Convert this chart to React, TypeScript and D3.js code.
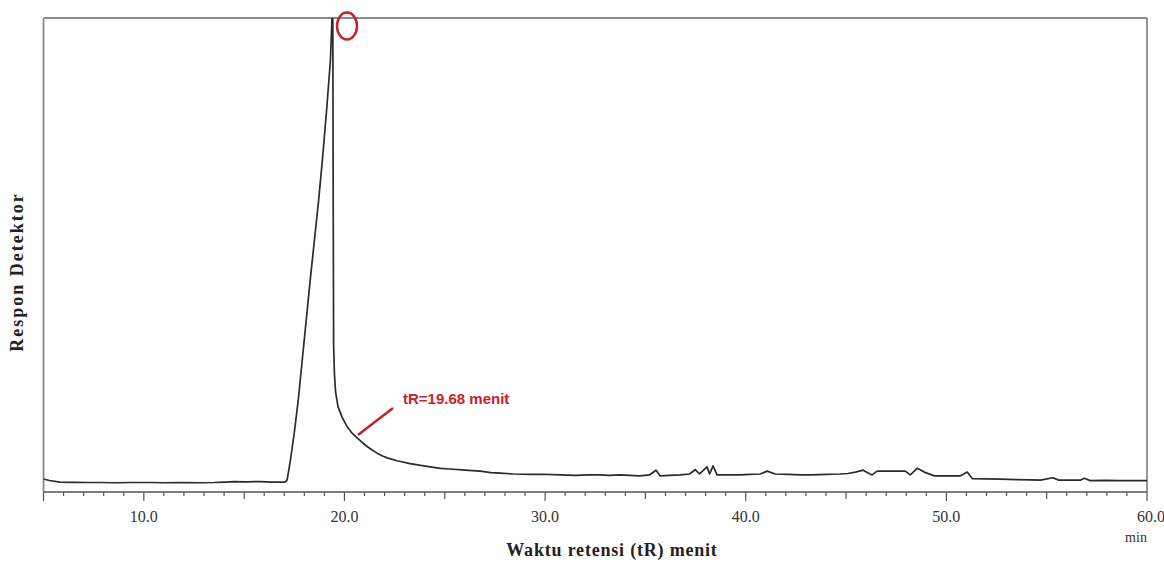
import React from "react";
import * as d3 from "d3";

// Retention time (min) and detector response (relative units, 100 = top of frame)
const times: number[] = [
  5.0, 5.3, 5.8, 6.5, 7.2, 7.8, 8.6, 9.4, 10.3, 11.0, 11.8, 12.8, 13.5, 14.05, 14.5, 15.1, 15.8, 16.4, 16.8, 17.04,
  17.14, 17.3, 17.5, 17.7, 17.9, 18.1, 18.3, 18.5, 18.7, 18.9, 19.1, 19.3, 19.38, 19.42,
  19.44, 19.46, 19.5, 19.56, 19.68, 19.88, 20.13, 20.38, 20.63, 20.9, 21.13, 21.4, 21.63, 21.9, 22.13, 22.62, 23.27, 23.8, 24.27, 24.8, 25.26,
  26.0, 26.76, 27.3, 27.76, 28.4, 29.25, 29.9, 30.75, 31.5, 32.2, 32.74, 33.2, 33.73, 34.2, 34.73, 35.2, 35.53, 35.73,
  36.2, 36.73, 37.2, 37.48, 37.7, 38.07, 38.2, 38.37, 38.57, 39.1, 39.72, 40.2, 40.72, 41.07, 41.47, 42.1, 42.72,
  43.3, 44.0, 44.7, 45.1, 45.47, 45.85, 46.1, 46.3, 46.55, 47.2, 47.95, 48.2, 48.55, 48.9, 49.4, 50.0, 50.68, 51.04,
  51.3, 52.0, 52.7, 53.5, 54.2, 54.7, 55.3, 55.6, 56.2, 56.67, 56.87, 57.17, 57.9, 58.7, 59.3, 60.0,
];
const responses: number[] = [
  2.74, 2.43, 2.1, 2.05, 2.0, 2.0, 1.95, 2.0, 2.0, 1.95, 2.0, 1.95, 2.0, 2.1, 2.2, 2.15, 2.2, 2.1, 2.1, 2.1,
  2.5, 6.5, 12.5, 19.5, 28.0, 36.5, 45.0, 53.0, 61.0, 70.0, 80.0, 91.0, 100.0, 100.0,
  60.0, 31.0, 25.0, 21.0, 18.0, 15.8, 13.8, 12.4, 11.4, 10.4, 9.6, 8.8, 8.2, 7.6, 7.2, 6.6, 6.0, 5.6, 5.3, 5.0, 4.85,
  4.6, 4.4, 4.1, 4.0, 3.8, 3.7, 3.75, 3.6, 3.5, 3.6, 3.6, 3.5, 3.6, 3.5, 3.4, 3.6, 4.6, 3.4,
  3.5, 3.6, 3.8, 4.7, 3.8, 5.3, 3.8, 5.5, 3.6, 3.6, 3.6, 3.7, 3.8, 4.4, 3.8, 3.7, 3.6,
  3.6, 3.7, 3.8, 3.9, 4.2, 4.6, 4.0, 3.6, 4.4, 4.4, 4.4, 3.6, 5.0, 4.2, 3.4, 3.4, 3.4, 4.2,
  2.8, 2.75, 2.7, 2.6, 2.55, 2.5, 3.0, 2.5, 2.5, 2.5, 2.9, 2.4, 2.45, 2.4, 2.4, 2.4,
];

const xTickValues: number[] = d3.range(5, 61, 1);
const xLabelValues: number[] = [10, 20, 30, 40, 50, 60];

const xTitle = "Waktu retensi (tR) menit";
const yTitle = "Respon Detektor";
const unitLabel = "min";
const annotationText = "tR=19.68 menit";

export default function App() {
  const W = 1164;
  const H = 563;
  const left = 43.5;
  const right = 1147;
  const top = 18;
  const bottom = 492;

  const x = d3.scaleLinear().domain([5, 60]).range([left, right]);
  const y = d3.scaleLinear().domain([0, 100]).range([bottom, top]);

  const data = times.map((t, i) => [t, responses[i]] as [number, number]);
  const line = d3
    .line<[number, number]>()
    .x((d) => x(d[0]))
    .y((d) => y(d[1]))
    .curve(d3.curveLinear);

  const frame = "#8a8a8a";
  const red = "#c4232e";

  return (
    <svg
      width={W}
      height={H}
      style={{ position: "absolute", left: 0, top: 0, background: "#fff" }}
    >
      <defs>
        <clipPath id="plotclip">
          <rect x={left} y={top} width={right - left} height={bottom - top} />
        </clipPath>
      </defs>

      {/* frame */}
      <line x1={left} x2={right} y1={top} y2={top} stroke={frame} strokeWidth={1.8} />
      <line x1={left} x2={left} y1={top} y2={bottom} stroke={frame} strokeWidth={1.8} />
      <line x1={right} x2={right} y1={top} y2={bottom} stroke={frame} strokeWidth={1.8} />
      <line x1={left} x2={right} y1={bottom} y2={bottom} stroke="#555" strokeWidth={1.4} />

      {/* ticks */}
      {xTickValues.map((t) => {
        const major = t % 10 === 0 || t === 5;
        const mid = t % 5 === 0 && !major;
        const len = major ? 9 : mid ? 7 : 4;
        return (
          <line
            key={t}
            x1={x(t)}
            x2={x(t)}
            y1={bottom}
            y2={bottom + len}
            stroke="#555"
            strokeWidth={1.2}
          />
        );
      })}
      {xLabelValues.map((t) => (
        <text
          key={t}
          x={t === 60 ? x(t) + 4 : x(t)}
          y={522}
          textAnchor="middle"
          fontFamily="'Liberation Serif', 'Times New Roman', serif"
          fontSize={16}
          fill="#333"
        >
          {d3.format(".1f")(t)}
        </text>
      ))}
      <text
        x={1136}
        y={542}
        textAnchor="middle"
        fontFamily="'Liberation Serif', 'Times New Roman', serif"
        fontSize={14}
        fill="#333"
      >
        {unitLabel}
      </text>

      {/* signal */}
      <path
        d={line(data) || ""}
        fill="none"
        stroke="#2b2b2b"
        strokeWidth={1.7}
        strokeLinejoin="round"
        clipPath="url(#plotclip)"
      />

      {/* annotations */}
      <ellipse cx={347} cy={26} rx={10} ry={13.5} fill="none" stroke={red} strokeWidth={2.5} />
      <line x1={358} y1={435} x2={393} y2={408} stroke={red} strokeWidth={2.5} />
      <text
        x={403}
        y={404}
        fontFamily="'Liberation Sans', Arial, sans-serif"
        fontWeight="bold"
        fontSize={15}
        fill={red}
      >
        {annotationText}
      </text>

      {/* axis titles */}
      <text
        x={612}
        y={556}
        textAnchor="middle"
        fontFamily="'Liberation Serif', 'Times New Roman', serif"
        fontWeight="bold"
        fontSize={18}
        letterSpacing={0.8}
        fill="#222"
      >
        {xTitle}
      </text>
      <text
        transform="translate(23,272) rotate(-90)"
        textAnchor="middle"
        fontFamily="'Liberation Serif', 'Times New Roman', serif"
        fontWeight="bold"
        fontSize={18}
        letterSpacing={2}
        fill="#222"
      >
        {yTitle}
      </text>
    </svg>
  );
}
